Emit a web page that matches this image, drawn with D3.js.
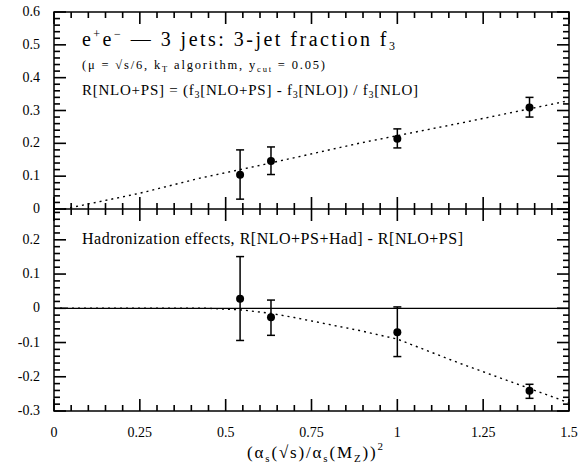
<!DOCTYPE html>
<html>
<head>
<meta charset="utf-8">
<script src="https://cdn.jsdelivr.net/npm/d3@7"></script>
<style>
  body { margin: 0; background: #fff; }
  svg text { font-family: "Liberation Serif", "Times New Roman", serif; }
</style>
</head>
<body>
<div id="chart"></div>
<script>
// values
var xPts = [0.542, 0.632, 1.0, 1.385];

var topVal = [0.104, 0.146, 0.214, 0.309];
var topLo = [0.03, 0.105, 0.186, 0.28];
var topHi = [0.18, 0.189, 0.244, 0.34];

var botVal = [0.028, -0.026, -0.07, -0.241];
var botLo = [-0.094, -0.079, -0.141, -0.263];
var botHi = [0.151, 0.024, 0.004, -0.222];

// dotted curves (x, y)
var topCurveX = [0.03, 0.25, 0.425, 0.6, 0.892, 1.2, 1.5];
var topCurveY = [0.0, 0.048, 0.094, 0.133, 0.201, 0.265, 0.33];
var botCurveX = [0.0, 0.45, 0.55, 0.632, 0.7, 0.89, 1.0, 1.18, 1.5];
var botCurveY = [0.0, 0.0, -0.005, -0.015, -0.027, -0.065, -0.09, -0.16, -0.276];

var xTickLabels = ["0", "0.25", "0.5", "0.75", "1", "1.25", "1.5"];
var topYTickLabels = ["0", "0.1", "0.2", "0.3", "0.4", "0.5", "0.6"];
var botYTickLabels = ["-0.3", "-0.2", "-0.1", "0", "0.1", "0.2"];

var width = 579, height = 472;
var left = 54, right = 569;
var topY0 = 12, midY = 209, botY = 411;

var svg = d3.select("#chart").append("svg")
  .attr("width", width).attr("height", height);

var x = d3.scaleLinear().domain([0, 1.5]).range([left, right]);
var yTop = d3.scaleLinear().domain([0, 0.6]).range([midY, topY0]);
var yBot = d3.scaleLinear().domain([-0.3, 0.29]).range([botY, midY]);

// frames
svg.append("rect").attr("x", left).attr("y", topY0)
  .attr("width", right - left).attr("height", botY - topY0)
  .attr("fill", "none").attr("stroke", "#000").attr("stroke-width", 1.5);
svg.append("line").attr("x1", left).attr("x2", right)
  .attr("y1", midY).attr("y2", midY).attr("stroke", "#000").attr("stroke-width", 1.5);
svg.append("line").attr("x1", left).attr("x2", right)
  .attr("y1", yBot(0)).attr("y2", yBot(0)).attr("stroke", "#000").attr("stroke-width", 1.3);

// tick positions (major and minor)
var xMajor = d3.range(0, 7).map(function(i) { return i * 0.25; });
var xMinor = d3.range(0, 31).map(function(i) { return i * 0.05; })
  .filter(function(v, i) { return i % 5 !== 0; });
var topMajor = d3.range(0, 7).map(function(i) { return i * 0.1; });
var topMinor = d3.range(0, 31).map(function(i) { return i * 0.02; })
  .filter(function(v, i) { return i % 5 !== 0; });
var botMajor = d3.range(-3, 3).map(function(i) { return i * 0.1; });
var botMinor = d3.range(-15, 15).map(function(i) { return i * 0.02; })
  .filter(function(v, i) { return (i + 15) % 5 !== 0; });

// ticks drawn as thin filled rects, pointing inward
var tickW = 1.6;
var ticksG = svg.append("g").attr("fill", "#000");
function xTicks(vals, len, y0, dir) {
  ticksG.selectAll(null).data(vals).enter().append("rect")
    .attr("x", function(d) { return x(d) - tickW / 2; })
    .attr("y", dir > 0 ? y0 : y0 - len)
    .attr("width", tickW).attr("height", len).attr("fill", "#000");
}
function yTicks(vals, scale, len, x0, dir) {
  ticksG.selectAll(null).data(vals).enter().append("rect")
    .attr("y", function(d) { return scale(d) - tickW / 2; })
    .attr("x", dir > 0 ? x0 : x0 - len)
    .attr("height", tickW).attr("width", len).attr("fill", "#000");
}
[[xMajor, 12], [xMinor, 6]].forEach(function(p) {
  xTicks(p[0], p[1], botY, -1);
  xTicks(p[0], p[1], topY0, 1);
  xTicks(p[0], p[1], midY, 1);
  xTicks(p[0], p[1], midY, -1);
});
[[topMajor, 12, yTop], [topMinor, 6, yTop], [botMajor, 12, yBot], [botMinor, 6, yBot]].forEach(function(p) {
  yTicks(p[0], p[2], p[1], left, 1);
  yTicks(p[0], p[2], p[1], right, -1);
});

// tick labels
svg.selectAll(".xl").data(xTickLabels).enter().append("text")
  .attr("x", function(d) { return x(+d); }).attr("y", 437)
  .attr("text-anchor", "middle").attr("font-size", 14).text(function(d) { return d; });
svg.selectAll(".ytl").data(topYTickLabels).enter().append("text")
  .attr("x", 40).attr("y", function(d) { return yTop(+d) + 4; })
  .attr("text-anchor", "end").attr("font-size", 14).text(function(d) { return d; });
svg.selectAll(".ybl").data(botYTickLabels).enter().append("text")
  .attr("x", 40).attr("y", function(d) { return yBot(+d) + 4; })
  .attr("text-anchor", "end").attr("font-size", 14).text(function(d) { return d; });

// dotted curves
var line = d3.line();
svg.append("path")
  .attr("d", line(topCurveX.map(function(v, i) { return [x(v), yTop(topCurveY[i])]; })))
  .attr("fill", "none").attr("stroke", "#000").attr("stroke-width", 1.4)
  .attr("stroke-dasharray", "2,4");
svg.append("path")
  .attr("d", line(botCurveX.map(function(v, i) { return [x(v), yBot(botCurveY[i])]; })))
  .attr("fill", "none").attr("stroke", "#000").attr("stroke-width", 1.4)
  .attr("stroke-dasharray", "2,4");

// points with error bars
function points(vals, lo, hi, y) {
  var g = svg.append("g");
  xPts.forEach(function(xv, i) {
    var px = x(xv);
    g.append("line").attr("x1", px).attr("x2", px)
      .attr("y1", y(lo[i])).attr("y2", y(hi[i])).attr("stroke", "#000").attr("stroke-width", 1.5);
    [lo[i], hi[i]].forEach(function(e) {
      g.append("line").attr("x1", px - 4).attr("x2", px + 4)
        .attr("y1", y(e)).attr("y2", y(e)).attr("stroke", "#000").attr("stroke-width", 1.5);
    });
    g.append("circle").attr("cx", px).attr("cy", y(vals[i])).attr("r", 4).attr("fill", "#000");
  });
}
points(topVal, topLo, topHi, yTop);
points(botVal, botLo, botHi, yBot);

// annotation texts (stretched to the widths seen in the picture)
var t1 = svg.append("text").attr("x", 82).attr("y", 46).attr("font-size", 20)
  .attr("textLength", 313).attr("lengthAdjust", "spacing");
t1.append("tspan").text("e");
t1.append("tspan").attr("font-size", 12).attr("dy", -8).text("+");
t1.append("tspan").attr("dy", 8).text("e");
t1.append("tspan").attr("font-size", 12).attr("dy", -8).text("\u2212");
t1.append("tspan").attr("dy", 8).text(" \u2014 3 jets: 3-jet fraction f");
t1.append("tspan").attr("font-size", 12).attr("dy", 4).text("3");

var t2 = svg.append("text").attr("x", 82).attr("y", 69).attr("font-size", 12.5)
  .attr("textLength", 243).attr("lengthAdjust", "spacing");
t2.append("tspan").text("(\u03bc = \u221as/6, k");
t2.append("tspan").attr("font-size", 8.5).attr("dy", 3).text("T");
t2.append("tspan").attr("dy", -3).text(" algorithm, y");
t2.append("tspan").attr("font-size", 8.5).attr("dy", 3).text("cut");
t2.append("tspan").attr("dy", -3).text(" = 0.05)");

var t3 = svg.append("text").attr("x", 82).attr("y", 95).attr("font-size", 15)
  .attr("textLength", 336).attr("lengthAdjust", "spacing");
t3.append("tspan").text("R[NLO+PS] = (f");
t3.append("tspan").attr("font-size", 10).attr("dy", 3).text("3");
t3.append("tspan").attr("dy", -3).text("[NLO+PS] - f");
t3.append("tspan").attr("font-size", 10).attr("dy", 3).text("3");
t3.append("tspan").attr("dy", -3).text("[NLO]) / f");
t3.append("tspan").attr("font-size", 10).attr("dy", 3).text("3");
t3.append("tspan").attr("dy", -3).text("[NLO]");

svg.append("text").attr("x", 82).attr("y", 244).attr("font-size", 16)
  .attr("textLength", 381).attr("lengthAdjust", "spacing")
  .text("Hadronization effects, R[NLO+PS+Had] - R[NLO+PS]");

// x axis title
var xt = svg.append("text").attr("x", 247).attr("y", 458).attr("font-size", 17)
  .attr("textLength", 136).attr("lengthAdjust", "spacing");
xt.append("tspan").text("(\u03b1");
xt.append("tspan").attr("font-size", 11).attr("dy", 4).text("s");
xt.append("tspan").attr("dy", -4).text("(\u221as)/\u03b1");
xt.append("tspan").attr("font-size", 11).attr("dy", 4).text("s");
xt.append("tspan").attr("dy", -4).text("(M");
xt.append("tspan").attr("font-size", 11).attr("dy", 4).text("Z");
xt.append("tspan").attr("dy", -4).text("))");
xt.append("tspan").attr("font-size", 11).attr("dy", -8).text("2");
</script>
</body>
</html>
